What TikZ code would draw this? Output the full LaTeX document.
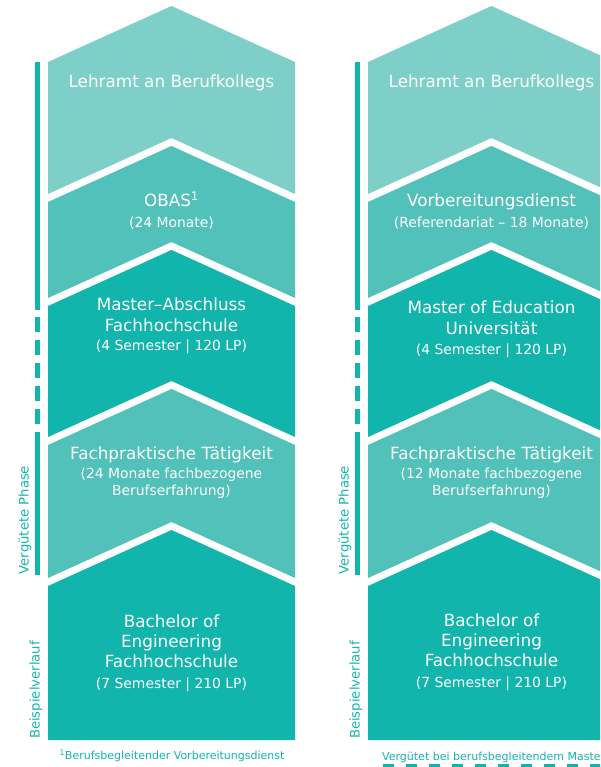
\documentclass[tikz,border=0pt]{standalone}
\usepackage{fontspec}
\setmainfont{DejaVu Sans}
\definecolor{tealA}{HTML}{7FCFC9}
\definecolor{tealB}{HTML}{52C1B9}
\definecolor{tealC}{HTML}{12B5AB}
\newcommand\chevblk[4]{% offset, colour, top peak, bottom notch peak
  \fill[#2] (48+#1,56+#3) -- (171.5+#1,#3) -- (295+#1,56+#3) -- (295+#1,56+#4) -- (171.5+#1,#4) -- (48+#1,56+#4) -- cycle;}
\begin{document}
\begin{tikzpicture}[x=1pt,y=-1pt,
  main/.style={anchor=base,text=white,font=\fontsize{16.8}{20}\selectfont,inner sep=0pt},
  sub/.style={anchor=base,text=white,font=\fontsize{13.9}{17}\selectfont,inner sep=0pt},
  side/.style={rotate=90,text=tealC,font=\fontsize{13.2}{15}\selectfont,inner sep=0pt},
  foot/.style={anchor=base,text=tealC,font=\fontsize{11}{13}\selectfont,inner sep=0pt},
  bar/.style={draw=tealC,line width=5pt},
  dashbar/.style={draw=tealC,line width=5pt,dash pattern=on 15pt off 8pt}]
\useasboundingbox (0,0) rectangle (600,767);
\clip (0,0) rectangle (600,767);
\foreach \o in {0,320}{
  \chevblk{\o}{tealA}{6}{138}
  \chevblk{\o}{tealB}{146}{242}
  \chevblk{\o}{tealC}{250}{381}
  \chevblk{\o}{tealB}{389}{522}
  \fill[tealC] (48+\o,586) -- (171.5+\o,530) -- (295+\o,586) -- (295+\o,740) -- (48+\o,740) -- cycle;
  \path[bar] (37.5+\o,62) -- (37.5+\o,310);
  \path[dashbar] (37.5+\o,317) -- (37.5+\o,425);
  \path[bar] (37.5+\o,432) -- (37.5+\o,575);
}
% left column
\node[main] (la1) at (171.5,88) {Lehramt an Berufkollegs};
\node[main] (lb1) at (171.5,207) {OBAS\textsuperscript{1}};
\node[sub]  (lb2) at (171.5,227) {(24 Monate)};
\node[main] (lc1) at (171.5,310) {Master–Abschluss};
\node[main] (lc2) at (171.5,331) {Fachhochschule};
\node[sub]  (lc3) at (171.5,350) {(4 Semester | 120 LP)};
\node[main] (ld1) at (171.5,459) {Fachpraktische Tätigkeit};
\node[sub]  (ld2) at (171.5,478) {(24 Monate fachbezogene};
\node[sub]  (ld3) at (171.5,495) {Berufserfahrung)};
\node[main] (le1) at (171.5,627) {Bachelor of};
\node[main] (le2) at (171.5,647) {Engineering};
\node[main] (le3) at (171.5,667) {Fachhochschule};
\node[sub]  (le4) at (171.5,688) {(7 Semester | 210 LP)};
% right column
\node[main] (ra1) at (491.5,88) {Lehramt an Berufkollegs};
\node[main] (rb1) at (491.5,207) {Vorbereitungsdienst};
\node[sub]  (rb2) at (491.5,227) {(Referendariat – 18 Monate)};
\node[main] (rc1) at (491.5,313) {Master of Education};
\node[main] (rc2) at (491.5,334) {Universität};
\node[sub]  (rc3) at (491.5,354) {(4 Semester | 120 LP)};
\node[main] (rd1) at (491.5,459) {Fachpraktische Tätigkeit};
\node[sub]  (rd2) at (491.5,478) {(12 Monate fachbezogene};
\node[sub]  (rd3) at (491.5,495) {Berufserfahrung)};
\node[main] (re1) at (491.5,626) {Bachelor of};
\node[main] (re2) at (491.5,646) {Engineering};
\node[main] (re3) at (491.5,666) {Fachhochschule};
\node[sub]  (re4) at (491.5,687) {(7 Semester | 210 LP)};
% side labels
\node[side] (lv) at (25,520) {Vergütete Phase};
\node[side] (rv) at (345,520) {Vergütete Phase};
\node[side] (lbsp) at (36,690) {Beispielverlauf};
\node[side] (rbsp) at (356,690) {Beispielverlauf};
% footnotes
\node[foot] (lfn) at (172,759) {\textsuperscript{1}Berufsbegleitender Vorbereitungsdienst};
\node[foot,anchor=base west] (rfn) at (382,760) {Vergütet bei berufsbegleitendem Master};
\coordinate (dl0) at (383,765.5);
\coordinate (dl1) at (620,765.5);
\draw[tealC,line width=3.5pt,dash pattern=on 11pt off 12pt] (dl0) -- (dl1);
\end{tikzpicture}
\end{document}
